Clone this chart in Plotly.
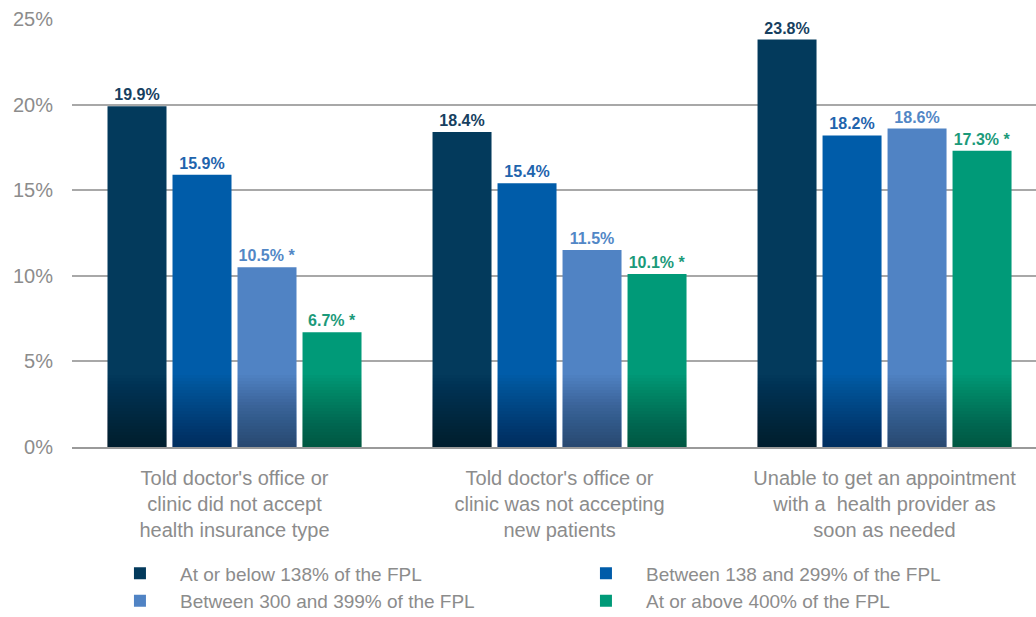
import plotly.graph_objects as go

# ---- data ----
categories = [
    "Told doctor's office or<br>clinic did not accept<br>health insurance type",
    "Told doctor's office or<br>clinic was not accepting<br>new patients",
    "Unable to get an appointment<br>with a  health provider as<br>soon as needed",
]
series_names = [
    "At or below 138% of the FPL",
    "Between 138 and 299% of the FPL",
    "Between 300 and 399% of the FPL",
    "At or above 400% of the FPL",
]
below_138 = [19.9, 18.4, 23.8]
between_138_299 = [15.9, 15.4, 18.2]
between_300_399 = [10.5, 11.5, 18.6]
above_400 = [6.7, 10.1, 17.3]
# significance marks (*)
sig_below_138 = [False, False, False]
sig_138_299 = [False, False, False]
sig_300_399 = [True, False, False]
sig_above_400 = [True, True, True]

y_ticks = [0, 5, 10, 15, 20, 25]
y_tick_labels = ["0%", "5%", "10%", "15%", "20%", "25%"]

# ---- style ----
bar_colors = ["#033a5c", "#005ca9", "#5083c4", "#009a78"]
label_colors = ["#173f5f", "#1f64ad", "#5287c6", "#1b9a7a"]
grey = "#8c8c8c"
font_family = "Liberation Sans, Arial, Helvetica, sans-serif"

all_values = [below_138, between_138_299, between_300_399, above_400]
all_sigs = [sig_below_138, sig_138_299, sig_300_399, sig_above_400]

slot = 0.2
bar_w = 0.1815
n_layers = 24
grad_top = 4.2
layer_opacity = 0.021

fig = go.Figure()
for i, (name, vals, sigs) in enumerate(zip(series_names, all_values, all_sigs)):
    center = (i - 1.5) * slot
    offset = center - bar_w / 2
    texts = [f"{v:.1f}%" + (" *" if s else "") for v, s in zip(vals, sigs)]
    fig.add_trace(go.Bar(
        x=categories, y=vals, name=name,
        width=bar_w, offset=offset,
        marker=dict(color=bar_colors[i], line=dict(width=0)),
        text=texts, textposition="outside",
        textfont=dict(family=font_family, size=16, color=label_colors[i], weight="bold"),
        cliponaxis=False,
    ))
    # bottom shading (gradient effect)
    for k in range(1, n_layers + 1):
        h = grad_top * k / n_layers
        fig.add_trace(go.Bar(
            x=categories, y=[min(v, h) for v in vals],
            width=bar_w, offset=offset,
            marker=dict(color="black", opacity=layer_opacity, line=dict(width=0)),
            showlegend=False, hoverinfo="skip",
        ))

fig.update_layout(
    width=1036, height=617,
    margin=dict(l=72, r=0, t=19, b=170, autoexpand=False),
    barmode="overlay",
    plot_bgcolor="white", paper_bgcolor="white",
    font=dict(family=font_family, color=grey),
    showlegend=True,
    legend=dict(
        orientation="h", x=0.029, xanchor="left", y=-0.2507, yanchor="top",
        entrywidth=381, entrywidthmode="pixels", itemwidth=70,
        font=dict(family=font_family, size=19, color=grey),
        traceorder="normal",
    ),
)
fig.update_xaxes(
    range=[-0.5, 2.466],
    showgrid=False,
    showline=True, linecolor="#9a9a9a", linewidth=2,
    ticks="", ticklabelstandoff=12,
    tickfont=dict(family=font_family, size=20, color=grey),
)
fig.update_yaxes(
    range=[0, 25], tickvals=y_ticks, ticktext=y_tick_labels,
    showgrid=True, gridcolor="#a8a8a8", gridwidth=1.5,
    zeroline=False, showline=False, ticks="",
    ticklabelstandoff=18,
    tickfont=dict(family=font_family, size=20, color=grey),
)

fig.write_html(
    "out.html",
    config={"displayModeBar": False},
    post_script="document.body.style.margin='0';",
)
